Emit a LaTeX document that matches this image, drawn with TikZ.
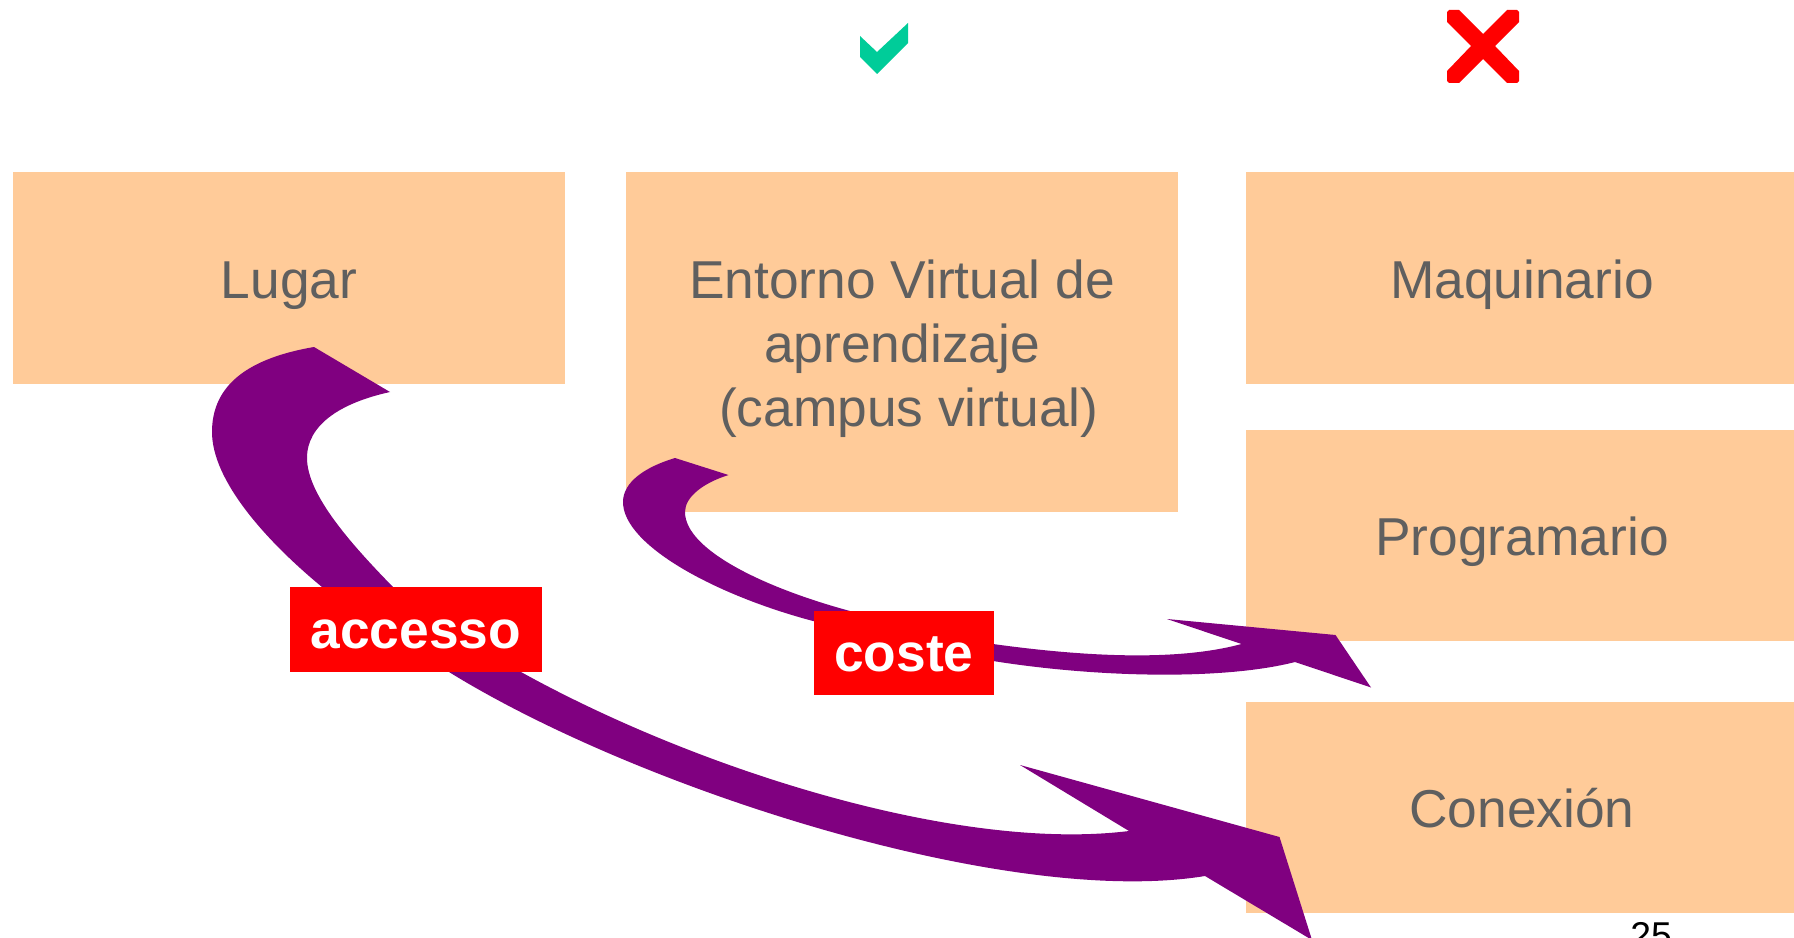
\documentclass[tikz,border=0pt]{standalone}
\usepackage{fontspec}
\setmainfont{Liberation Sans}
\definecolor{peach}{HTML}{FFCB99}
\definecolor{txtgray}{HTML}{5F5F5F}
\definecolor{arrowpurple}{HTML}{800080}
\definecolor{okgreen}{HTML}{00CC99}
\tikzset{
  peachbox/.style={fill=peach,draw=none,inner sep=0pt,minimum width=414pt,anchor=north west},
  boxtext/.style={text=txtgray,font=\fontsize{40}{48}\selectfont,align=center,inner sep=0pt,anchor=base},
  tag/.style={fill=red,text=white,draw=none,inner sep=0pt,font=\fontsize{40}{48}\selectfont\bfseries,anchor=north west},
  bigcurve/.style={fill=arrowpurple,draw=none}
}
\begin{document}
\begin{tikzpicture}[x=0.75pt,y=-0.75pt]
\useasboundingbox (0,0) rectangle (1794,938);
\fill[white] (0,0) rectangle (1794,938);
% boxes
\node[peachbox,minimum height=159pt] (lugar) at (13,172) {};
\node[peachbox,minimum height=255pt] (entorno) at (626,172) {};
\node[peachbox,minimum height=159pt] (maq) at (1246,172) {};
\node[peachbox,minimum height=158.25pt] (prog) at (1246,430) {};
\node[peachbox,minimum height=158.25pt] (conex) at (1246,702) {};
% box texts
\node[boxtext] (tlugar) at (289,298.5) {Lugar};
\node[boxtext,anchor=north] (tentorno) at (902,259.3) {Entorno Virtual de\\aprendizaje\\\hspace*{10pt}(campus virtual)};
\node[boxtext] (tmaq) at (1522,298.5) {Maquinario};
\node[boxtext] (tprog) at (1522,555.5) {Programario};
\node[boxtext] (tconex) at (1522,827) {Conexión};
% big arrow
\fill[bigcurve] (314,347)
  .. controls (238,360) and (212,392) .. (212,432)
  .. controls (212,480) and (265,540) .. (322,587)
  -- (449,672)
  .. controls (640,790) and (1010,908) .. (1205,876)
  -- (1312,940) -- (1279.5,837) -- (1020,765) -- (1129,831)
  .. controls (960,852) and (700,771) .. (521,672)
  -- (393,587)
  .. controls (352,545) and (307,495) .. (307,458)
  .. controls (307,425) and (340,403) .. (390,392)
  -- cycle;
% small arrow
\fill[bigcurve] (675,458)
  .. controls (645,467) and (623,482) .. (623,502)
  .. controls (623,545) and (715,595) .. (813,621)
  -- (993,661)
  .. controls (1100,678) and (1225,680) .. (1295,662)
  -- (1371,687.5) -- (1335.5,635) -- (1167,619) -- (1241.5,644)
  .. controls (1175,662) and (1080,656) .. (993,644)
  -- (850,611)
  .. controls (765,588) and (685,550) .. (685,512)
  .. controls (685,497) and (703,483) .. (728.5,475)
  -- cycle;
% labels
\node[tag,minimum width=189pt,text height=46.1pt,text depth=17.6pt] (accesso) at (289.5,587) {accesso};
\node[tag,minimum width=135pt,text height=45.5pt,text depth=17.5pt] (coste) at (813.5,611) {coste};
% check and cross
\fill[okgreen] (860,36) -- (877,52) -- (908,23) -- (908,43) -- (877,74) -- (860,57) -- cycle;
\fill[red] (1447,12) -- (1449,10) -- (1459,10) -- (1483,34) -- (1507,10) -- (1517,10) -- (1519,12) -- (1519,22) -- (1495,46) -- (1519,71) -- (1519,81) -- (1517,83) -- (1507,83) -- (1483,59) -- (1459,83) -- (1449,83) -- (1447,81) -- (1447,71) -- (1471,46) -- (1447,22) -- cycle;
% page number
\node[anchor=base,inner sep=0pt,text=black,font=\fontsize{28}{32}\selectfont] (pagenum) at (1651,948) {25};
\end{tikzpicture}
\end{document}
